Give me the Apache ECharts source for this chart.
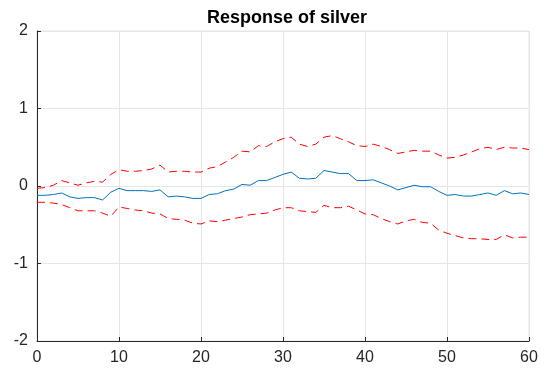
<!DOCTYPE html>
<html><head><meta charset="utf-8">
<script src="https://cdn.jsdelivr.net/npm/echarts@6/dist/echarts.min.js"></script>
<style>html,body{margin:0;padding:0;background:#fff}#c{width:549px;height:373px}</style>
</head><body><div id="c"></div>
<script>
const titleText = "Response of silver";
const xTicks = [0,10,20,30,40,50,60];
const yTicks = [-2,-1,0,1,2];
const response = [-0.12,-0.12,-0.11,-0.09,-0.14,-0.16,-0.15,-0.15,-0.18,-0.08,-0.03,-0.06,-0.06,-0.06,-0.07,-0.05,-0.14,-0.13,-0.14,-0.16,-0.16,-0.11,-0.10,-0.06,-0.04,0.02,0.01,0.07,0.07,0.11,0.15,0.18,0.10,0.09,0.10,0.20,0.18,0.16,0.16,0.07,0.07,0.08,0.04,0.00,-0.05,-0.02,0.01,-0.01,-0.01,-0.07,-0.12,-0.11,-0.13,-0.13,-0.11,-0.09,-0.12,-0.06,-0.10,-0.09,-0.11];
const upper = [-0.03,-0.02,0.01,0.07,0.04,0.01,0.04,0.06,0.05,0.15,0.21,0.19,0.19,0.20,0.22,0.27,0.18,0.19,0.19,0.18,0.18,0.23,0.25,0.31,0.37,0.45,0.44,0.52,0.51,0.57,0.61,0.63,0.54,0.51,0.54,0.63,0.65,0.61,0.57,0.52,0.51,0.54,0.51,0.47,0.42,0.44,0.46,0.45,0.45,0.40,0.36,0.37,0.40,0.44,0.48,0.50,0.47,0.50,0.49,0.49,0.47];
const lower = [-0.21,-0.21,-0.22,-0.24,-0.28,-0.32,-0.32,-0.32,-0.35,-0.39,-0.27,-0.29,-0.31,-0.32,-0.35,-0.36,-0.42,-0.43,-0.44,-0.48,-0.49,-0.45,-0.46,-0.44,-0.42,-0.40,-0.37,-0.36,-0.35,-0.31,-0.28,-0.28,-0.32,-0.33,-0.34,-0.25,-0.28,-0.28,-0.26,-0.31,-0.36,-0.37,-0.42,-0.46,-0.49,-0.45,-0.43,-0.47,-0.48,-0.57,-0.61,-0.64,-0.67,-0.68,-0.68,-0.69,-0.69,-0.63,-0.67,-0.66,-0.66];

const pts = arr => arr.map((v,i)=>[i,v]);
const chart = echarts.init(document.getElementById('c'));
const font = 'Liberation Sans, Arial, sans-serif';
chart.setOption({
  animation:false,
  title:{text:titleText,left:282,top:4,textAlign:'center',textStyle:{fontFamily:font,fontSize:18,fontWeight:'bold',color:'#000'}},
  grid:{left:37,right:20,top:31,bottom:32,show:true,borderColor:'#e6e6e6',borderWidth:1},
  xAxis:{type:'value',min:0,max:60,interval:10,
    axisLine:{show:true,onZero:false,lineStyle:{color:'#262626',width:1}},
    axisTick:{show:true,inside:true,length:4,lineStyle:{color:'#262626'}},
    axisLabel:{fontFamily:font,fontSize:16,color:'#262626',margin:9,formatter:v=>xTicks.includes(v)?String(v):''},
    splitLine:{show:true,lineStyle:{color:'#e6e6e6',width:1}}},
  yAxis:{type:'value',min:-2,max:2,interval:1,
    axisLine:{show:true,onZero:false,lineStyle:{color:'#262626',width:1}},
    axisTick:{show:true,inside:true,length:4,lineStyle:{color:'#262626'}},
    axisLabel:{fontFamily:font,fontSize:16,color:'#262626',margin:9,formatter:v=>yTicks.includes(v)?String(v):''},
    splitLine:{show:true,lineStyle:{color:'#e6e6e6',width:1}}},
  series:[
    {type:'line',data:pts(upper),symbol:'none',lineStyle:{color:'#ff0000',width:1,type:[8,5]}},
    {type:'line',data:pts(lower),symbol:'none',lineStyle:{color:'#ff0000',width:1,type:[8,5]}},
    {type:'line',data:pts(response),symbol:'none',lineStyle:{color:'#0072bd',width:1}}
  ]
});
</script></body></html>
